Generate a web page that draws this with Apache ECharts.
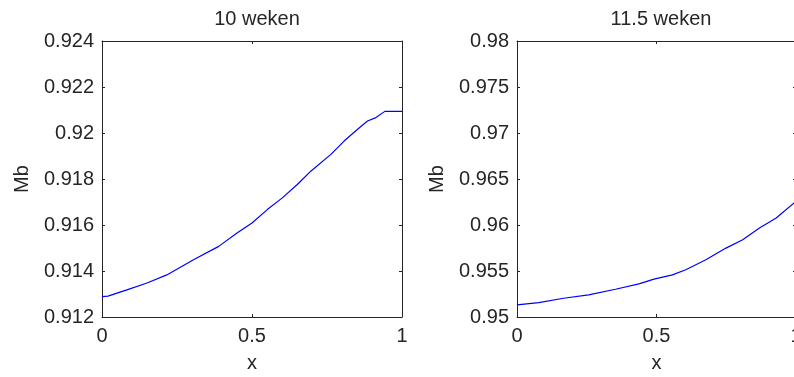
<!DOCTYPE html>
<html>
<head>
<meta charset="utf-8">
<script src="https://cdn.jsdelivr.net/npm/echarts@6/dist/echarts.min.js"></script>
<style>
  html, body { margin: 0; padding: 0; background: #fff; }
  #chart { width: 794px; height: 377px; }
</style>
</head>
<body>
<div id="chart"></div>
<script>
// Panel titles
const titles = ['10 weken', '11.5 weken'];

// Position along x (0..1) and Mb values, 10 weeks
const x10 = [0, 0.02, 0.083, 0.15, 0.216, 0.305, 0.389, 0.45, 0.5, 0.551, 0.601, 0.651, 0.696, 0.763, 0.807, 0.852, 0.885, 0.913, 0.943, 1];
const mb10 = [0.91289, 0.91291, 0.91318, 0.91348, 0.91383, 0.91449, 0.91507, 0.91565, 0.91609, 0.91667, 0.91718, 0.91776, 0.91834, 0.91907, 0.91965, 0.92016, 0.92052, 0.92067, 0.92094, 0.92094];

// Position along x (0..1) and Mb values, 11.5 weeks
const x115 = [0, 0.078, 0.167, 0.257, 0.353, 0.437, 0.491, 0.557, 0.605, 0.677, 0.749, 0.809, 0.869, 0.929, 0.996, 1];
const mb115 = [0.95131, 0.95156, 0.95204, 0.95240, 0.95302, 0.95360, 0.95411, 0.95458, 0.95513, 0.95622, 0.95749, 0.95840, 0.95967, 0.96077, 0.96247, 0.96258];

// Axis ranges and tick steps
const yRange10 = { min: 0.912, max: 0.924, step: 0.002 };
const yRange115 = { min: 0.95, max: 0.98, step: 0.005 };
const xTicks = { min: 0, max: 1, step: 0.5 };

const ink = '#262626';
const font = 'Liberation Sans, Arial, sans-serif';
const fmt = v => String(Number(v.toFixed(4)));

const grids = [
  { left: 102, top: 41, width: 300, height: 276, outerBoundsMode: 'none', containLabel: false },
  { left: 517, top: 41, width: 279, height: 276, outerBoundsMode: 'none', containLabel: false }
];

function xPair(gi) {
  const base = {
    gridIndex: gi, type: 'value', min: xTicks.min, max: xTicks.max, interval: xTicks.step,
    axisLine: { show: true, onZero: false, lineStyle: { color: ink, width: 1 } },
    axisTick: { show: true, inside: true, length: 3, lineStyle: { color: ink } },
    splitLine: { show: false }
  };
  return [
    Object.assign({}, base, {
      position: 'bottom',
      name: 'x', nameLocation: 'middle', nameGap: 36,
      nameTextStyle: { color: ink, fontFamily: font, fontSize: 20 },
      axisLabel: { color: ink, fontFamily: font, fontSize: 20, margin: 9, formatter: fmt }
    }),
    Object.assign({}, base, { position: 'top', axisLabel: { show: false } })
  ];
}

function yPair(gi, r) {
  const base = {
    gridIndex: gi, type: 'value', min: r.min, max: r.max, interval: r.step,
    axisLine: { show: true, onZero: false, lineStyle: { color: ink, width: 1 } },
    axisTick: { show: true, inside: true, length: 3, lineStyle: { color: ink } },
    splitLine: { show: false }
  };
  return [
    Object.assign({}, base, {
      position: 'left',
      name: 'Mb', nameLocation: 'middle', nameGap: 70, nameRotate: 90,
      nameTextStyle: { color: ink, fontFamily: font, fontSize: 20 },
      axisLabel: { color: ink, fontFamily: font, fontSize: 20, margin: 8, formatter: fmt }
    }),
    Object.assign({}, base, { position: 'right', axisLabel: { show: false } })
  ];
}

const chart = echarts.init(document.getElementById('chart'), null, { renderer: 'canvas' });
chart.setOption({
  animation: false,
  backgroundColor: '#fff',
  title: [
    { text: titles[0], left: 252, top: 4, textAlign: 'center',
      textStyle: { color: ink, fontFamily: font, fontSize: 20, fontWeight: 'normal' } },
    { text: titles[1], left: 656, top: 4, textAlign: 'center',
      textStyle: { color: ink, fontFamily: font, fontSize: 20, fontWeight: 'normal' } }
  ],
  grid: grids,
  xAxis: [].concat(xPair(0), xPair(1)),
  yAxis: [].concat(yPair(0, yRange10), yPair(1, yRange115)),
  series: [
    {
      type: 'line', xAxisIndex: 0, yAxisIndex: 0,
      data: x10.map((v, i) => [v, mb10[i]]),
      showSymbol: false, smooth: false,
      lineStyle: { color: '#0000ff', width: 1.2 }
    },
    {
      type: 'line', xAxisIndex: 2, yAxisIndex: 2,
      data: x115.map((v, i) => [v, mb115[i]]),
      showSymbol: false, smooth: false,
      lineStyle: { color: '#0000ff', width: 1.2 }
    }
  ]
});
</script>
</body>
</html>
